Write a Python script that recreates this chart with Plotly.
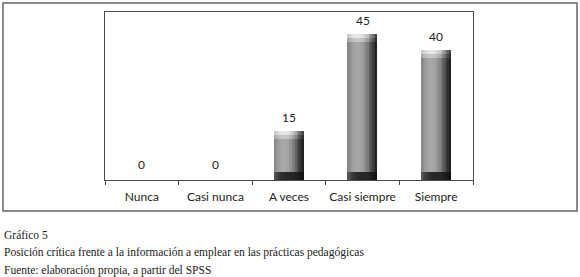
import plotly.graph_objects as go

categories = ["Nunca", "Casi nunca", "A veces", "Casi siempre", "Siempre"]
values = [0, 0, 15, 45, 40]
caption_lines = [
    "Gráfico 5",
    "Posición crítica frente a la información a emplear en las prácticas pedagógicas",
    "Fuente: elaboración propia, a partir del SPSS",
]

W, H = 580, 277
L, R, T, B = 105, 473, 12, 180  # plot area in pixels
YMAX = 51.8


def ramp(keys, n):
    """Interpolate grey levels across n strips from key levels."""
    out = []
    m = len(keys) - 1
    for i in range(n):
        t = i / (n - 1) * m
        j = min(int(t), m - 1)
        f = t - j
        g = round(keys[j] * (1 - f) + keys[j + 1] * f)
        out.append(f"rgb({g},{g},{g})")
    return out


NS = 18
body_cols = ramp([135, 158, 168, 166, 150, 118, 70, 32], NS)
cap1_cols = ramp([200, 222, 232, 230, 215, 185, 130, 70], NS)
cap2_cols = ramp([170, 190, 200, 198, 185, 155, 100, 50], NS)
bot_cols = ramp([85, 60, 45, 40, 38, 36, 28, 18], NS)

BW = 0.40
sw = BW / NS
cap1_h = 1.1
cap2_h = 1.3
bot_h = 2.4

fig = go.Figure()


def strip_trace(i, heights, bases, colors):
    return go.Bar(x=categories, y=heights, base=bases, width=sw * 1.05,
                  offset=-BW / 2 + i * sw,
                  marker=dict(color=colors[i], line=dict(width=0)),
                  showlegend=False, hoverinfo="skip")


for i in range(NS):
    fig.add_trace(strip_trace(i, values, None, body_cols))
    fig.add_trace(strip_trace(i, [cap2_h if v > 0 else None for v in values],
                              [v - cap1_h - cap2_h if v > 0 else None for v in values],
                              cap2_cols))
    fig.add_trace(strip_trace(i, [cap1_h if v > 0 else None for v in values],
                              [v - cap1_h if v > 0 else None for v in values],
                              cap1_cols))
    fig.add_trace(strip_trace(i, [bot_h if v > 0 else None for v in values],
                              None, bot_cols))


def px(x):
    return (x - L) / (R - L)


def py(y):
    return (B - y) / (B - T)


frame = "#666666"
TOP = 3

annotations = []
for c, v in zip(categories, values):
    annotations.append(dict(x=c, y=v, xref="x", yref="y", text=str(v),
                            showarrow=False, yshift=14 if v > 0 else 16,
                            font=dict(family="Lato, Open Sans, sans-serif", size=12, color="#222")))

for k, line in enumerate(caption_lines):
    annotations.append(dict(x=px(2), y=py(235 + 17.5 * k),
                            xref="paper", yref="paper", xanchor="left", yanchor="middle",
                            text=line, showarrow=False,
                            font=dict(family="Liberation Serif, DejaVu Serif, serif", size=11.5, color="#222")))

fig.update_layout(
    width=W, height=H,
    margin=dict(l=L, r=W - R, t=T, b=H - B, autoexpand=False),
    paper_bgcolor="white", plot_bgcolor="white",
    barmode="overlay", bargap=0,
    annotations=annotations,
    shapes=[
        dict(type="rect", xref="paper", yref="paper",
             x0=px(3), x1=px(577), y0=py(211), y1=py(TOP),
             line=dict(color=frame, width=1.5), layer="above"),
    ],
    xaxis=dict(type="category", showline=True, linecolor="#4a4a4a", linewidth=1,
               mirror=True, ticks="outside", tickson="boundaries", ticklen=4,
               tickcolor="#4a4a4a", showgrid=False, zeroline=False,
               tickangle=0, automargin=False, ticklabelstandoff=6,
               tickfont=dict(family="Lato, Open Sans, sans-serif", size=12, color="#222")),
    yaxis=dict(range=[0, YMAX], showline=True, linecolor="#4a4a4a", linewidth=1,
               mirror=True, showticklabels=False, ticks="", showgrid=False,
               zeroline=False, automargin=False),
)

fig.write_html(
    "out.html", config={"displayModeBar": False},
    post_script=(
        "document.documentElement.style.margin='0';"
        "document.documentElement.style.overflow='hidden';"
        "document.body.style.margin='0';document.body.style.overflow='hidden';"
        "var d=document.getElementById('{plot_id}');"
        "d.style.position='fixed';d.style.top='0px';d.style.left='0px';"
        "window.scrollTo(0,0);"
    ),
)
